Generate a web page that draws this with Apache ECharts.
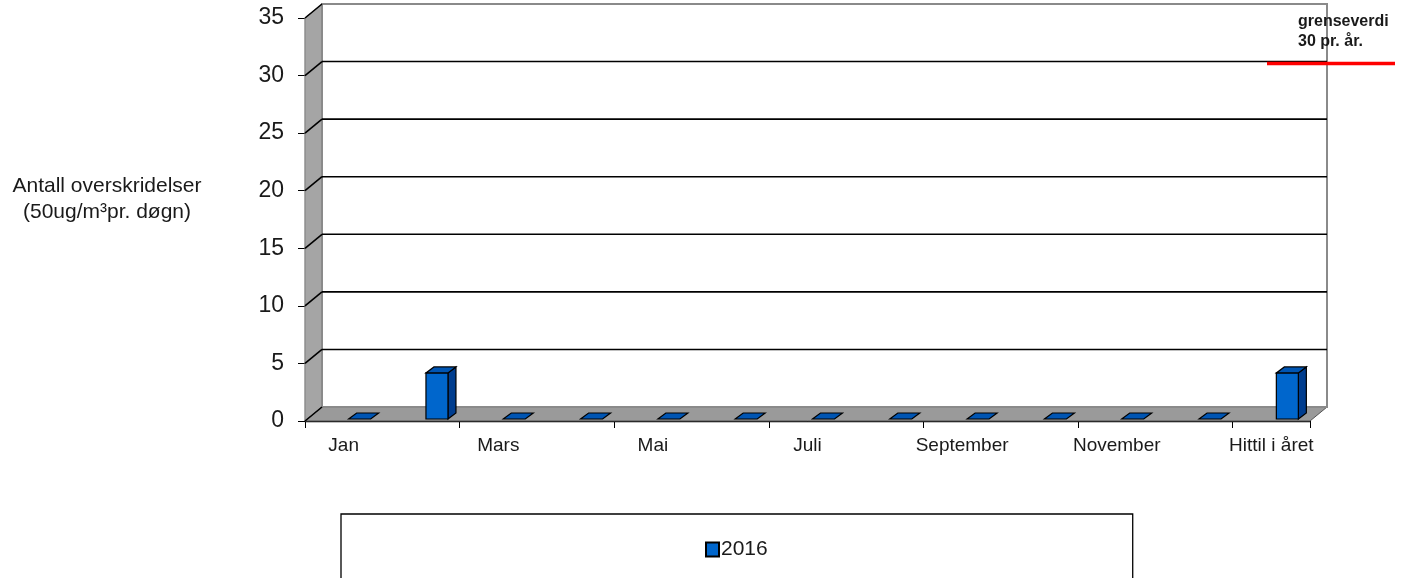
<!DOCTYPE html>
<html>
<head>
<meta charset="utf-8">
<script src="https://cdn.jsdelivr.net/npm/echarts@6/dist/echarts.min.js"></script>
<style>html,body{margin:0;padding:0;background:#fff}#c{width:1414px;height:578px}</style>
</head>
<body>
<div id="c"></div>
<script>
const categories = ['Jan','Feb','Mars','April','Mai','Juni','Juli','August','September','Oktober','November','Desember','Hittil i året'];
const values2016 = [0,4,0,0,0,0,0,0,0,0,0,0,4];
const seriesName = '2016';
const yTicks = [0,5,10,15,20,25,30,35];
const limitValue = 30;
const limitText = 'grenseverdi\n30 pr. år.';
const yTitle = 'Antall overskridelser\n(50ug/m³pr. døgn)';

const DX = 17, DY = -14;      // wall depth
const BX = 16, BY = -2;       // bar front offset
const BDX = 8, BDY = -6;      // bar depth
const BW = 22;                // bar width

const chart = echarts.init(document.getElementById('c'));
const font = 'Liberation Sans, Arial, sans-serif';

function wallsRender(params, api) {
  const cs = params.coordSys;
  const L = cs.x, R = cs.x + cs.width, T = cs.y, B = cs.y + cs.height;
  const ch = [];
  ch.push({type:'polygon', shape:{points:[[L,T],[L,B],[L+DX,B+DY],[L+DX,T+DY]]}, style:{fill:'#a5a5a5', stroke:'#808080', lineWidth:1}});
  ch.push({type:'polygon', shape:{points:[[L,B],[R,B],[R+DX,B+DY],[L+DX,B+DY]]}, style:{fill:'#9a9a9a', stroke:'#555', lineWidth:1}});
  ch.push({type:'rect', shape:{x:L+DX, y:T+DY, width:R-L, height:B-T}, style:{fill:'#fff', stroke:'#8a8a8a', lineWidth:2}});
  yTicks.forEach(v => {
    const y = api.coord([0, v])[1];
    if (v > 0 && v < 35) {
      ch.push({type:'line', shape:{x1:L+DX, y1:y+DY, x2:R+DX, y2:y+DY}, style:{stroke:'#000', lineWidth:1.6}});
    }
    ch.push({type:'line', shape:{x1:L, y1:y, x2:L+DX, y2:y+DY}, style:{stroke:'#000', lineWidth:1.6}});
  });
  const yl = api.coord([0, limitValue])[1] + DY + 2;
  ch.push({type:'line', shape:{x1:R+DX-60, y1:yl, x2:R+DX+68, y2:yl}, style:{stroke:'#ff0000', lineWidth:3.5}});
  return {type:'group', children: ch};
}

function barRender(params, api) {
  const idx = api.value(0), v = api.value(1);
  const top = api.coord([idx, v]);
  const base = api.coord([idx, 0]);
  const x0 = base[0] - BW/2 + BX, x1 = x0 + BW;
  const yb = base[1] + BY, yt = top[1] + BY;
  const st = {stroke:'#000', lineWidth:1.2};
  const ch = [];
  if (v > 0) {
    ch.push({type:'polygon', shape:{points:[[x1,yt],[x1,yb],[x1+BDX,yb+BDY],[x1+BDX,yt+BDY]]}, style:Object.assign({fill:'#003d8f'}, st)});
    ch.push({type:'rect', shape:{x:x0, y:yt, width:BW, height:yb-yt}, style:Object.assign({fill:'#0066cc'}, st)});
  }
  ch.push({type:'polygon', shape:{points:[[x0,yt],[x1,yt],[x1+BDX,yt+BDY],[x0+BDX,yt+BDY]]}, style:Object.assign({fill:'#0055b3'}, st)});
  return {type:'group', children: ch};
}

chart.setOption({
  animation: false,
  backgroundColor: '#fff',
  grid: {left: 305, top: 18, width: 1005, height: 403, containLabel: false},
  xAxis: {
    type: 'category', data: categories, boundaryGap: true,
    axisLine: {show: true, lineStyle: {color: '#000', width: 1.3}},
    axisTick: {show: true, length: 7, lineStyle: {color: '#000'}},
    axisLabel: {interval: 1, margin: 15, color: '#1a1a1a', fontSize: 19, fontFamily: font},
    splitLine: {show: false}
  },
  yAxis: {
    type: 'value', min: 0, max: 35, interval: 5,
    axisLine: {show: true, lineStyle: {color: '#000', width: 1.3}},
    axisTick: {show: true, length: 7, lineStyle: {color: '#000'}},
    axisLabel: {margin: 21, color: '#1a1a1a', fontSize: 23, fontFamily: font},
    splitLine: {show: false}
  },
  legend: {
    data: [seriesName], left: 341, top: 514,
    padding: [25, 365, 45, 364],
    borderColor: '#000', borderWidth: 1.3, backgroundColor: '#fff',
    itemWidth: 13, itemHeight: 14, itemGap: 4, icon: 'rect',
    textStyle: {fontSize: 21, color: '#1a1a1a', fontFamily: font, padding: [0,0,0,-3]}
  },
  graphic: [
    {type:'text', z: 100, x: 107, y: 173, style:{text: yTitle, font: '21px ' + font, fill:'#1a1a1a', align:'center', verticalAlign:'top', lineHeight: 26}},
    {type:'text', z: 100, x: 1298, y: 12, style:{text: limitText, font: 'bold 16px ' + font, fill:'#1a1a1a', verticalAlign:'top', lineHeight: 20}}
  ],
  series: [
    {type:'custom', name:'walls', z:1, silent:true, data:[[0,0]], renderItem: wallsRender, encode:{x:0,y:1}},
    {type:'custom', name: seriesName, z:3, data: values2016.map((v,i)=>[i,v]), renderItem: barRender, encode:{x:0,y:1},
     itemStyle:{color:'#0066cc', borderColor:'#000', borderWidth:1}}
  ]
});
</script>
</body>
</html>
